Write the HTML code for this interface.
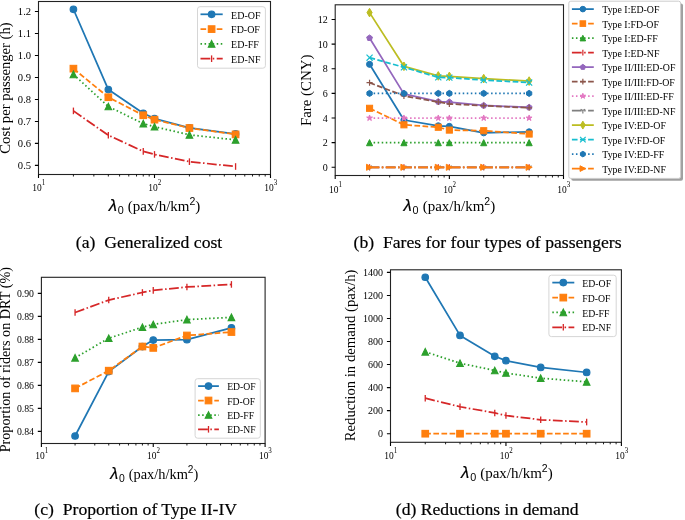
<!DOCTYPE html>
<html><head><meta charset="utf-8"><style>
html,body{margin:0;padding:0;background:#fff;width:685px;height:520px;overflow:hidden}
svg{display:block;will-change:transform}
.hv{stroke:#000;stroke-width:0.2px}
text{font-family:"Liberation Serif", serif;fill:#000}
</style></head><body>
<svg width="685" height="520" viewBox="0 0 685 520">
<rect width="685" height="520" fill="#fff"/>
<rect x="38.5" y="1.5" width="232" height="173" fill="none" stroke="#222" stroke-width="1.1"/>
<path d="M34.9,165.4H38.5M34.9,143.41H38.5M34.9,121.43H38.5M34.9,99.44H38.5M34.9,77.46H38.5M34.9,55.47H38.5M34.9,33.49H38.5M34.9,11.5H38.5M38.5,174.5V178.1M154.5,174.5V178.1M270.5,174.5V178.1" stroke="#000" stroke-width="1.1" fill="none"/>
<path d="M73.42,174.5V176.5M93.85,174.5V176.5M108.34,174.5V176.5M119.58,174.5V176.5M128.77,174.5V176.5M136.53,174.5V176.5M143.26,174.5V176.5M149.19,174.5V176.5M189.42,174.5V176.5M209.85,174.5V176.5M224.34,174.5V176.5M235.58,174.5V176.5M244.77,174.5V176.5M252.53,174.5V176.5M259.26,174.5V176.5M265.19,174.5V176.5" stroke="#000" stroke-width="0.88" fill="none"/>
<text transform="translate(31.1,169.32) scale(1.0,1)" text-anchor="end" font-size="10.6">0.5</text>
<text transform="translate(31.1,147.34) scale(1.0,1)" text-anchor="end" font-size="10.6">0.6</text>
<text transform="translate(31.1,125.35) scale(1.0,1)" text-anchor="end" font-size="10.6">0.7</text>
<text transform="translate(31.1,103.36) scale(1.0,1)" text-anchor="end" font-size="10.6">0.8</text>
<text transform="translate(31.1,81.38) scale(1.0,1)" text-anchor="end" font-size="10.6">0.9</text>
<text transform="translate(31.1,59.39) scale(1.0,1)" text-anchor="end" font-size="10.6">1.0</text>
<text transform="translate(31.1,37.41) scale(1.0,1)" text-anchor="end" font-size="10.6">1.1</text>
<text transform="translate(31.1,15.42) scale(1.0,1)" text-anchor="end" font-size="10.6">1.2</text>
<text transform="translate(38.8,191.1) scale(0.9,1)" text-anchor="middle" font-size="10.5">10<tspan font-size="7.77" dy="-6.3">1</tspan></text>
<text transform="translate(154.8,191.1) scale(0.9,1)" text-anchor="middle" font-size="10.5">10<tspan font-size="7.77" dy="-6.3">2</tspan></text>
<text transform="translate(270.8,191.1) scale(0.9,1)" text-anchor="middle" font-size="10.5">10<tspan font-size="7.77" dy="-6.3">3</tspan></text>
<polyline points="73.42,9.3 108.34,89.55 143.26,113.29 154.5,118.57 189.42,127.8 235.58,133.96" fill="none" stroke="#1f77b4" stroke-width="1.75" stroke-linecap="square" stroke-linejoin="round"/>
<circle cx="73.42" cy="9.3" r="3.3" fill="#1f77b4" stroke="#1f77b4" stroke-width="1.1"/>
<circle cx="108.34" cy="89.55" r="3.3" fill="#1f77b4" stroke="#1f77b4" stroke-width="1.1"/>
<circle cx="143.26" cy="113.29" r="3.3" fill="#1f77b4" stroke="#1f77b4" stroke-width="1.1"/>
<circle cx="154.5" cy="118.57" r="3.3" fill="#1f77b4" stroke="#1f77b4" stroke-width="1.1"/>
<circle cx="189.42" cy="127.8" r="3.3" fill="#1f77b4" stroke="#1f77b4" stroke-width="1.1"/>
<circle cx="235.58" cy="133.96" r="3.3" fill="#1f77b4" stroke="#1f77b4" stroke-width="1.1"/>
<polyline points="73.42,68.66 108.34,97.24 143.26,115.27 154.5,119.67 189.42,128.02 235.58,134.4" fill="none" stroke="#ff7f0e" stroke-width="1.75" stroke-dasharray="5.66,2.45" stroke-linecap="butt" stroke-linejoin="round"/>
<rect x="70.12" y="65.36" width="6.6" height="6.6" fill="#ff7f0e" stroke="#ff7f0e" stroke-width="1.1" stroke-linejoin="miter"/>
<rect x="105.04" y="93.94" width="6.6" height="6.6" fill="#ff7f0e" stroke="#ff7f0e" stroke-width="1.1" stroke-linejoin="miter"/>
<rect x="139.96" y="111.97" width="6.6" height="6.6" fill="#ff7f0e" stroke="#ff7f0e" stroke-width="1.1" stroke-linejoin="miter"/>
<rect x="151.2" y="116.37" width="6.6" height="6.6" fill="#ff7f0e" stroke="#ff7f0e" stroke-width="1.1" stroke-linejoin="miter"/>
<rect x="186.12" y="124.72" width="6.6" height="6.6" fill="#ff7f0e" stroke="#ff7f0e" stroke-width="1.1" stroke-linejoin="miter"/>
<rect x="232.28" y="131.1" width="6.6" height="6.6" fill="#ff7f0e" stroke="#ff7f0e" stroke-width="1.1" stroke-linejoin="miter"/>
<polyline points="73.42,74.38 108.34,106.48 143.26,123.63 154.5,126.71 189.42,134.84 235.58,139.9" fill="none" stroke="#2ca02c" stroke-width="1.75" stroke-dasharray="1.53,2.52" stroke-linecap="butt" stroke-linejoin="round"/>
<polygon points="73.42,71.08 70.12,77.68 76.72,77.68" fill="#2ca02c" stroke="#2ca02c" stroke-width="1.1" stroke-linejoin="miter"/>
<polygon points="108.34,103.18 105.04,109.78 111.64,109.78" fill="#2ca02c" stroke="#2ca02c" stroke-width="1.1" stroke-linejoin="miter"/>
<polygon points="143.26,120.33 139.96,126.93 146.56,126.93" fill="#2ca02c" stroke="#2ca02c" stroke-width="1.1" stroke-linejoin="miter"/>
<polygon points="154.5,123.41 151.2,130.01 157.8,130.01" fill="#2ca02c" stroke="#2ca02c" stroke-width="1.1" stroke-linejoin="miter"/>
<polygon points="189.42,131.54 186.12,138.14 192.72,138.14" fill="#2ca02c" stroke="#2ca02c" stroke-width="1.1" stroke-linejoin="miter"/>
<polygon points="235.58,136.6 232.28,143.2 238.88,143.2" fill="#2ca02c" stroke="#2ca02c" stroke-width="1.1" stroke-linejoin="miter"/>
<polyline points="73.42,110.88 108.34,135.28 143.26,151.33 154.5,154.41 189.42,161.66 235.58,166.5" fill="none" stroke="#d62728" stroke-width="1.75" stroke-dasharray="9.79,2.45,1.53,2.45" stroke-linecap="butt" stroke-linejoin="round"/>
<path d="M73.42,107.58L73.42,114.18" stroke="#d62728" stroke-width="1.32" fill="none" stroke-linecap="butt"/>
<path d="M108.34,131.98L108.34,138.58" stroke="#d62728" stroke-width="1.32" fill="none" stroke-linecap="butt"/>
<path d="M143.26,148.03L143.26,154.63" stroke="#d62728" stroke-width="1.32" fill="none" stroke-linecap="butt"/>
<path d="M154.5,151.11L154.5,157.71" stroke="#d62728" stroke-width="1.32" fill="none" stroke-linecap="butt"/>
<path d="M189.42,158.36L189.42,164.96" stroke="#d62728" stroke-width="1.32" fill="none" stroke-linecap="butt"/>
<path d="M235.58,163.2L235.58,169.8" stroke="#d62728" stroke-width="1.32" fill="none" stroke-linecap="butt"/>
<rect x="197.5" y="6.7" width="67.9" height="61.5" rx="2.5" fill="#fff" fill-opacity="0.8" stroke="#d6d6d6" stroke-width="1"/>
<path d="M200.5,14.3H222.7" stroke="#1f77b4" stroke-width="1.75" stroke-linecap="butt" fill="none"/>
<circle cx="211.6" cy="14.3" r="3.3" fill="#1f77b4" stroke="#1f77b4" stroke-width="1.1"/>
<text transform="translate(231.1,18.63) scale(0.97,1)" font-size="10.3">ED-OF</text>
<path d="M200.5,29.1H222.7" stroke="#ff7f0e" stroke-width="1.75" stroke-dasharray="5.66,2.45" stroke-linecap="butt" fill="none"/>
<rect x="208.3" y="25.8" width="6.6" height="6.6" fill="#ff7f0e" stroke="#ff7f0e" stroke-width="1.1" stroke-linejoin="miter"/>
<text transform="translate(231.1,33.43) scale(0.97,1)" font-size="10.3">FD-OF</text>
<path d="M200.5,43.9H222.7" stroke="#2ca02c" stroke-width="1.75" stroke-dasharray="1.53,2.52" stroke-linecap="butt" fill="none"/>
<polygon points="211.6,40.6 208.3,47.2 214.9,47.2" fill="#2ca02c" stroke="#2ca02c" stroke-width="1.1" stroke-linejoin="miter"/>
<text transform="translate(231.1,48.23) scale(0.97,1)" font-size="10.3">ED-FF</text>
<path d="M200.5,58.7H222.7" stroke="#d62728" stroke-width="1.75" stroke-dasharray="9.79,2.45,1.53,2.45" stroke-linecap="butt" fill="none"/>
<path d="M211.6,55.4L211.6,62" stroke="#d62728" stroke-width="1.32" fill="none" stroke-linecap="butt"/>
<text transform="translate(231.1,63.03) scale(0.97,1)" font-size="10.3">ED-NF</text>
<text x="154.5" y="210.6" text-anchor="middle" font-size="15"><tspan font-family='"Liberation Sans", sans-serif' font-style="italic" font-size="16.8" class="hv">λ</tspan><tspan font-family='"Liberation Sans", sans-serif' font-size="10.8" dx="0.8" dy="3">0</tspan><tspan dx="0.3" dy="-3"> (pax/h/km</tspan><tspan font-family='"Liberation Sans", sans-serif' font-size="10.5" dy="-6">2</tspan><tspan dy="6">)</tspan></text>
<text transform="translate(10.2,88) rotate(-90)" x="0" y="0" text-anchor="middle" font-size="14.65">Cost per passenger (h)</text>
<rect x="335.2" y="4.8" width="228.3" height="170.7" fill="none" stroke="#222" stroke-width="1.1"/>
<path d="M331.6,167.3H335.2M331.6,142.67H335.2M331.6,118.03H335.2M331.6,93.4H335.2M331.6,68.77H335.2M331.6,44.13H335.2M331.6,19.5H335.2M335.2,175.5V179.1M449.35,175.5V179.1M563.5,175.5V179.1" stroke="#000" stroke-width="1.1" fill="none"/>
<path d="M369.56,175.5V177.5M389.66,175.5V177.5M403.93,175.5V177.5M414.99,175.5V177.5M424.03,175.5V177.5M431.67,175.5V177.5M438.29,175.5V177.5M444.13,175.5V177.5M483.71,175.5V177.5M503.81,175.5V177.5M518.08,175.5V177.5M529.14,175.5V177.5M538.18,175.5V177.5M545.82,175.5V177.5M552.44,175.5V177.5M558.28,175.5V177.5" stroke="#000" stroke-width="0.88" fill="none"/>
<text transform="translate(327.8,171) scale(1.0,1)" text-anchor="end" font-size="10">0</text>
<text transform="translate(327.8,146.37) scale(1.0,1)" text-anchor="end" font-size="10">2</text>
<text transform="translate(327.8,121.73) scale(1.0,1)" text-anchor="end" font-size="10">4</text>
<text transform="translate(327.8,97.1) scale(1.0,1)" text-anchor="end" font-size="10">6</text>
<text transform="translate(327.8,72.47) scale(1.0,1)" text-anchor="end" font-size="10">8</text>
<text transform="translate(327.8,47.83) scale(1.0,1)" text-anchor="end" font-size="10">10</text>
<text transform="translate(327.8,23.2) scale(1.0,1)" text-anchor="end" font-size="10">12</text>
<text transform="translate(335.5,192.8) scale(0.9,1)" text-anchor="middle" font-size="10.5">10<tspan font-size="7.77" dy="-6.3">1</tspan></text>
<text transform="translate(449.65,192.8) scale(0.9,1)" text-anchor="middle" font-size="10.5">10<tspan font-size="7.77" dy="-6.3">2</tspan></text>
<text transform="translate(563.8,192.8) scale(0.9,1)" text-anchor="middle" font-size="10.5">10<tspan font-size="7.77" dy="-6.3">3</tspan></text>
<polyline points="369.56,64.33 403.93,120 438.29,125.79 449.35,126.41 483.71,132.81 529.14,131.83" fill="none" stroke="#1f77b4" stroke-width="1.75" stroke-linecap="square" stroke-linejoin="round"/>
<circle cx="369.56" cy="64.33" r="3.05" fill="#1f77b4" stroke="#1f77b4" stroke-width="1"/>
<circle cx="403.93" cy="120" r="3.05" fill="#1f77b4" stroke="#1f77b4" stroke-width="1"/>
<circle cx="438.29" cy="125.79" r="3.05" fill="#1f77b4" stroke="#1f77b4" stroke-width="1"/>
<circle cx="449.35" cy="126.41" r="3.05" fill="#1f77b4" stroke="#1f77b4" stroke-width="1"/>
<circle cx="483.71" cy="132.81" r="3.05" fill="#1f77b4" stroke="#1f77b4" stroke-width="1"/>
<circle cx="529.14" cy="131.83" r="3.05" fill="#1f77b4" stroke="#1f77b4" stroke-width="1"/>
<polyline points="369.56,108.3 403.93,124.81 438.29,127.27 449.35,130.1 483.71,130.72 529.14,134.05" fill="none" stroke="#ff7f0e" stroke-width="1.75" stroke-dasharray="5.66,2.45" stroke-linecap="butt" stroke-linejoin="round"/>
<rect x="366.51" y="105.25" width="6.1" height="6.1" fill="#ff7f0e" stroke="#ff7f0e" stroke-width="1" stroke-linejoin="miter"/>
<rect x="400.88" y="121.76" width="6.1" height="6.1" fill="#ff7f0e" stroke="#ff7f0e" stroke-width="1" stroke-linejoin="miter"/>
<rect x="435.24" y="124.22" width="6.1" height="6.1" fill="#ff7f0e" stroke="#ff7f0e" stroke-width="1" stroke-linejoin="miter"/>
<rect x="446.3" y="127.05" width="6.1" height="6.1" fill="#ff7f0e" stroke="#ff7f0e" stroke-width="1" stroke-linejoin="miter"/>
<rect x="480.66" y="127.67" width="6.1" height="6.1" fill="#ff7f0e" stroke="#ff7f0e" stroke-width="1" stroke-linejoin="miter"/>
<rect x="526.09" y="131" width="6.1" height="6.1" fill="#ff7f0e" stroke="#ff7f0e" stroke-width="1" stroke-linejoin="miter"/>
<polyline points="369.56,142.67 403.93,142.67 438.29,142.67 449.35,142.67 483.71,142.67 529.14,142.67" fill="none" stroke="#2ca02c" stroke-width="1.75" stroke-dasharray="1.53,2.52" stroke-linecap="butt" stroke-linejoin="round"/>
<polygon points="369.56,139.62 366.51,145.72 372.61,145.72" fill="#2ca02c" stroke="#2ca02c" stroke-width="1" stroke-linejoin="miter"/>
<polygon points="403.93,139.62 400.88,145.72 406.98,145.72" fill="#2ca02c" stroke="#2ca02c" stroke-width="1" stroke-linejoin="miter"/>
<polygon points="438.29,139.62 435.24,145.72 441.34,145.72" fill="#2ca02c" stroke="#2ca02c" stroke-width="1" stroke-linejoin="miter"/>
<polygon points="449.35,139.62 446.3,145.72 452.4,145.72" fill="#2ca02c" stroke="#2ca02c" stroke-width="1" stroke-linejoin="miter"/>
<polygon points="483.71,139.62 480.66,145.72 486.76,145.72" fill="#2ca02c" stroke="#2ca02c" stroke-width="1" stroke-linejoin="miter"/>
<polygon points="529.14,139.62 526.09,145.72 532.19,145.72" fill="#2ca02c" stroke="#2ca02c" stroke-width="1" stroke-linejoin="miter"/>
<polyline points="369.56,167.3 403.93,167.3 438.29,167.3 449.35,167.3 483.71,167.3 529.14,167.3" fill="none" stroke="#d62728" stroke-width="1.75" stroke-dasharray="9.79,2.45,1.53,2.45" stroke-linecap="butt" stroke-linejoin="round"/>
<path d="M369.56,164.25L369.56,170.35" stroke="#d62728" stroke-width="1.2" fill="none" stroke-linecap="butt"/>
<path d="M403.93,164.25L403.93,170.35" stroke="#d62728" stroke-width="1.2" fill="none" stroke-linecap="butt"/>
<path d="M438.29,164.25L438.29,170.35" stroke="#d62728" stroke-width="1.2" fill="none" stroke-linecap="butt"/>
<path d="M449.35,164.25L449.35,170.35" stroke="#d62728" stroke-width="1.2" fill="none" stroke-linecap="butt"/>
<path d="M483.71,164.25L483.71,170.35" stroke="#d62728" stroke-width="1.2" fill="none" stroke-linecap="butt"/>
<path d="M529.14,164.25L529.14,170.35" stroke="#d62728" stroke-width="1.2" fill="none" stroke-linecap="butt"/>
<polyline points="369.56,37.98 403.93,93.89 438.29,101.65 449.35,102.02 483.71,105.47 529.14,107.32" fill="none" stroke="#9467bd" stroke-width="1.75" stroke-linecap="square" stroke-linejoin="round"/>
<polygon points="369.56,34.93 372.46,37.03 371.36,40.44 367.77,40.44 366.66,37.03" fill="#9467bd" stroke="#9467bd" stroke-width="1" stroke-linejoin="miter"/>
<polygon points="403.93,90.84 406.83,92.95 405.72,96.36 402.13,96.36 401.02,92.95" fill="#9467bd" stroke="#9467bd" stroke-width="1" stroke-linejoin="miter"/>
<polygon points="438.29,98.6 441.19,100.71 440.08,104.12 436.49,104.12 435.39,100.71" fill="#9467bd" stroke="#9467bd" stroke-width="1" stroke-linejoin="miter"/>
<polygon points="449.35,98.97 452.25,101.08 451.14,104.49 447.56,104.49 446.45,101.08" fill="#9467bd" stroke="#9467bd" stroke-width="1" stroke-linejoin="miter"/>
<polygon points="483.71,102.42 486.61,104.53 485.51,107.94 481.92,107.94 480.81,104.53" fill="#9467bd" stroke="#9467bd" stroke-width="1" stroke-linejoin="miter"/>
<polygon points="529.14,104.27 532.04,106.38 530.93,109.79 527.34,109.79 526.24,106.38" fill="#9467bd" stroke="#9467bd" stroke-width="1" stroke-linejoin="miter"/>
<polyline points="369.56,82.68 403.93,95.86 438.29,102.02 449.35,103.87 483.71,105.72 529.14,107.81" fill="none" stroke="#8c564b" stroke-width="1.75" stroke-dasharray="5.66,2.45" stroke-linecap="butt" stroke-linejoin="round"/>
<path d="M369.56,79.63L369.56,85.73M366.51,82.68L372.61,82.68" stroke="#8c564b" stroke-width="1.2" fill="none" stroke-linecap="butt"/>
<path d="M403.93,92.81L403.93,98.91M400.88,95.86L406.98,95.86" stroke="#8c564b" stroke-width="1.2" fill="none" stroke-linecap="butt"/>
<path d="M438.29,98.97L438.29,105.07M435.24,102.02L441.34,102.02" stroke="#8c564b" stroke-width="1.2" fill="none" stroke-linecap="butt"/>
<path d="M449.35,100.82L449.35,106.92M446.3,103.87L452.4,103.87" stroke="#8c564b" stroke-width="1.2" fill="none" stroke-linecap="butt"/>
<path d="M483.71,102.67L483.71,108.77M480.66,105.72L486.76,105.72" stroke="#8c564b" stroke-width="1.2" fill="none" stroke-linecap="butt"/>
<path d="M529.14,104.76L529.14,110.86M526.09,107.81L532.19,107.81" stroke="#8c564b" stroke-width="1.2" fill="none" stroke-linecap="butt"/>
<polyline points="369.56,118.03 403.93,118.03 438.29,118.03 449.35,118.03 483.71,118.03 529.14,118.03" fill="none" stroke="#e377c2" stroke-width="1.75" stroke-dasharray="1.53,2.52" stroke-linecap="butt" stroke-linejoin="round"/>
<polygon points="369.56,114.98 370.25,117.09 372.46,117.09 370.67,118.39 371.36,120.5 369.56,119.2 367.77,120.5 368.45,118.39 366.66,117.09 368.88,117.09" fill="#e377c2" stroke="#e377c2" stroke-width="1" stroke-linejoin="miter"/>
<polygon points="403.93,114.98 404.61,117.09 406.83,117.09 405.03,118.39 405.72,120.5 403.93,119.2 402.13,120.5 402.82,118.39 401.02,117.09 403.24,117.09" fill="#e377c2" stroke="#e377c2" stroke-width="1" stroke-linejoin="miter"/>
<polygon points="438.29,114.98 438.97,117.09 441.19,117.09 439.4,118.39 440.08,120.5 438.29,119.2 436.49,120.5 437.18,118.39 435.39,117.09 437.6,117.09" fill="#e377c2" stroke="#e377c2" stroke-width="1" stroke-linejoin="miter"/>
<polygon points="449.35,114.98 450.03,117.09 452.25,117.09 450.46,118.39 451.14,120.5 449.35,119.2 447.56,120.5 448.24,118.39 446.45,117.09 448.67,117.09" fill="#e377c2" stroke="#e377c2" stroke-width="1" stroke-linejoin="miter"/>
<polygon points="483.71,114.98 484.4,117.09 486.61,117.09 484.82,118.39 485.51,120.5 483.71,119.2 481.92,120.5 482.6,118.39 480.81,117.09 483.03,117.09" fill="#e377c2" stroke="#e377c2" stroke-width="1" stroke-linejoin="miter"/>
<polygon points="529.14,114.98 529.82,117.09 532.04,117.09 530.25,118.39 530.93,120.5 529.14,119.2 527.34,120.5 528.03,118.39 526.24,117.09 528.45,117.09" fill="#e377c2" stroke="#e377c2" stroke-width="1" stroke-linejoin="miter"/>
<polyline points="369.56,167.3 403.93,167.3 438.29,167.3 449.35,167.3 483.71,167.3 529.14,167.3" fill="none" stroke="#7f7f7f" stroke-width="1.75" stroke-dasharray="9.79,2.45,1.53,2.45" stroke-linecap="butt" stroke-linejoin="round"/>
<path d="M369.56,167.3L369.56,170.35M369.56,167.3L372,165.78M369.56,167.3L367.12,165.78" stroke="#7f7f7f" stroke-width="1.2" fill="none" stroke-linecap="butt"/>
<path d="M403.93,167.3L403.93,170.35M403.93,167.3L406.37,165.78M403.93,167.3L401.49,165.78" stroke="#7f7f7f" stroke-width="1.2" fill="none" stroke-linecap="butt"/>
<path d="M438.29,167.3L438.29,170.35M438.29,167.3L440.73,165.78M438.29,167.3L435.85,165.78" stroke="#7f7f7f" stroke-width="1.2" fill="none" stroke-linecap="butt"/>
<path d="M449.35,167.3L449.35,170.35M449.35,167.3L451.79,165.78M449.35,167.3L446.91,165.78" stroke="#7f7f7f" stroke-width="1.2" fill="none" stroke-linecap="butt"/>
<path d="M483.71,167.3L483.71,170.35M483.71,167.3L486.15,165.78M483.71,167.3L481.27,165.78" stroke="#7f7f7f" stroke-width="1.2" fill="none" stroke-linecap="butt"/>
<path d="M529.14,167.3L529.14,170.35M529.14,167.3L531.58,165.78M529.14,167.3L526.7,165.78" stroke="#7f7f7f" stroke-width="1.2" fill="none" stroke-linecap="butt"/>
<polyline points="369.56,12.6 403.93,66.3 438.29,75.91 449.35,76.4 483.71,78.62 529.14,81.08" fill="none" stroke="#bcbd22" stroke-width="1.75" stroke-linecap="square" stroke-linejoin="round"/>
<polygon points="369.56,8.29 372.15,12.6 369.56,16.92 366.97,12.6" fill="#bcbd22" stroke="#bcbd22" stroke-width="1" stroke-linejoin="miter"/>
<polygon points="403.93,61.99 406.51,66.3 403.93,70.62 401.34,66.3" fill="#bcbd22" stroke="#bcbd22" stroke-width="1" stroke-linejoin="miter"/>
<polygon points="438.29,71.6 440.88,75.91 438.29,80.22 435.7,75.91" fill="#bcbd22" stroke="#bcbd22" stroke-width="1" stroke-linejoin="miter"/>
<polygon points="449.35,72.09 451.94,76.4 449.35,80.72 446.76,76.4" fill="#bcbd22" stroke="#bcbd22" stroke-width="1" stroke-linejoin="miter"/>
<polygon points="483.71,74.31 486.3,78.62 483.71,82.93 481.12,78.62" fill="#bcbd22" stroke="#bcbd22" stroke-width="1" stroke-linejoin="miter"/>
<polygon points="529.14,76.77 531.73,81.08 529.14,85.4 526.55,81.08" fill="#bcbd22" stroke="#bcbd22" stroke-width="1" stroke-linejoin="miter"/>
<polyline points="369.56,57.68 403.93,67.29 438.29,77.39 449.35,77.63 483.71,80.1 529.14,82.56" fill="none" stroke="#17becf" stroke-width="1.75" stroke-dasharray="5.66,2.45" stroke-linecap="butt" stroke-linejoin="round"/>
<path d="M366.51,54.63L372.61,60.73M366.51,60.73L372.61,54.63" stroke="#17becf" stroke-width="1.2" fill="none" stroke-linecap="butt"/>
<path d="M400.88,64.24L406.98,70.34M400.88,70.34L406.98,64.24" stroke="#17becf" stroke-width="1.2" fill="none" stroke-linecap="butt"/>
<path d="M435.24,74.34L441.34,80.44M435.24,80.44L441.34,74.34" stroke="#17becf" stroke-width="1.2" fill="none" stroke-linecap="butt"/>
<path d="M446.3,74.58L452.4,80.68M446.3,80.68L452.4,74.58" stroke="#17becf" stroke-width="1.2" fill="none" stroke-linecap="butt"/>
<path d="M480.66,77.05L486.76,83.15M480.66,83.15L486.76,77.05" stroke="#17becf" stroke-width="1.2" fill="none" stroke-linecap="butt"/>
<path d="M526.09,79.51L532.19,85.61M526.09,85.61L532.19,79.51" stroke="#17becf" stroke-width="1.2" fill="none" stroke-linecap="butt"/>
<polyline points="369.56,93.4 403.93,93.4 438.29,93.4 449.35,93.4 483.71,93.4 529.14,93.4" fill="none" stroke="#1f77b4" stroke-width="1.75" stroke-dasharray="1.53,2.52" stroke-linecap="butt" stroke-linejoin="round"/>
<polygon points="369.56,90.35 372.2,91.88 372.2,94.93 369.56,96.45 366.92,94.93 366.92,91.88" fill="#1f77b4" stroke="#1f77b4" stroke-width="1" stroke-linejoin="miter"/>
<polygon points="403.93,90.35 406.57,91.88 406.57,94.93 403.93,96.45 401.28,94.93 401.28,91.88" fill="#1f77b4" stroke="#1f77b4" stroke-width="1" stroke-linejoin="miter"/>
<polygon points="438.29,90.35 440.93,91.88 440.93,94.93 438.29,96.45 435.65,94.93 435.65,91.88" fill="#1f77b4" stroke="#1f77b4" stroke-width="1" stroke-linejoin="miter"/>
<polygon points="449.35,90.35 451.99,91.88 451.99,94.93 449.35,96.45 446.71,94.93 446.71,91.88" fill="#1f77b4" stroke="#1f77b4" stroke-width="1" stroke-linejoin="miter"/>
<polygon points="483.71,90.35 486.35,91.88 486.35,94.93 483.71,96.45 481.07,94.93 481.07,91.88" fill="#1f77b4" stroke="#1f77b4" stroke-width="1" stroke-linejoin="miter"/>
<polygon points="529.14,90.35 531.78,91.88 531.78,94.93 529.14,96.45 526.5,94.93 526.5,91.88" fill="#1f77b4" stroke="#1f77b4" stroke-width="1" stroke-linejoin="miter"/>
<polyline points="369.56,167.3 403.93,167.3 438.29,167.3 449.35,167.3 483.71,167.3 529.14,167.3" fill="none" stroke="#ff7f0e" stroke-width="1.75" stroke-dasharray="9.79,2.45,1.53,2.45" stroke-linecap="butt" stroke-linejoin="round"/>
<polygon points="372.61,167.3 366.51,164.25 366.51,170.35" fill="#ff7f0e" stroke="#ff7f0e" stroke-width="1" stroke-linejoin="miter"/>
<polygon points="406.98,167.3 400.88,164.25 400.88,170.35" fill="#ff7f0e" stroke="#ff7f0e" stroke-width="1" stroke-linejoin="miter"/>
<polygon points="441.34,167.3 435.24,164.25 435.24,170.35" fill="#ff7f0e" stroke="#ff7f0e" stroke-width="1" stroke-linejoin="miter"/>
<polygon points="452.4,167.3 446.3,164.25 446.3,170.35" fill="#ff7f0e" stroke="#ff7f0e" stroke-width="1" stroke-linejoin="miter"/>
<polygon points="486.76,167.3 480.66,164.25 480.66,170.35" fill="#ff7f0e" stroke="#ff7f0e" stroke-width="1" stroke-linejoin="miter"/>
<polygon points="532.19,167.3 526.09,164.25 526.09,170.35" fill="#ff7f0e" stroke="#ff7f0e" stroke-width="1" stroke-linejoin="miter"/>
<rect x="571.2" y="3.6" width="111.8" height="177.2" rx="2" fill="#7f7f7f" fill-opacity="0.75"/>
<rect x="568.8" y="1.2" width="111.8" height="177.2" rx="2" fill="#fff" stroke="#cccccc" stroke-width="1"/>
<path d="M571.9,9.1H593.8" stroke="#1f77b4" stroke-width="1.75" stroke-linecap="butt" fill="none"/>
<circle cx="582.85" cy="9.1" r="2.8" fill="#1f77b4" stroke="#1f77b4" stroke-width="1"/>
<text transform="translate(602.3,13.18) scale(0.97,1)" font-size="10.2">Type I:ED-OF</text>
<path d="M571.9,23.6H593.8" stroke="#ff7f0e" stroke-width="1.75" stroke-dasharray="5.66,2.45" stroke-linecap="butt" fill="none"/>
<rect x="580.05" y="20.8" width="5.6" height="5.6" fill="#ff7f0e" stroke="#ff7f0e" stroke-width="1" stroke-linejoin="miter"/>
<text transform="translate(602.3,27.68) scale(0.97,1)" font-size="10.2">Type I:FD-OF</text>
<path d="M571.9,38.1H593.8" stroke="#2ca02c" stroke-width="1.75" stroke-dasharray="1.53,2.52" stroke-linecap="butt" fill="none"/>
<polygon points="582.85,35.3 580.05,40.9 585.65,40.9" fill="#2ca02c" stroke="#2ca02c" stroke-width="1" stroke-linejoin="miter"/>
<text transform="translate(602.3,42.18) scale(0.97,1)" font-size="10.2">Type I:ED-FF</text>
<path d="M571.9,52.6H593.8" stroke="#d62728" stroke-width="1.75" stroke-dasharray="9.79,2.45,1.53,2.45" stroke-linecap="butt" fill="none"/>
<path d="M582.85,49.8L582.85,55.4" stroke="#d62728" stroke-width="1.2" fill="none" stroke-linecap="butt"/>
<text transform="translate(602.3,56.68) scale(0.97,1)" font-size="10.2">Type I:ED-NF</text>
<path d="M571.9,67.1H593.8" stroke="#9467bd" stroke-width="1.75" stroke-linecap="butt" fill="none"/>
<polygon points="582.85,64.3 585.51,66.23 584.5,69.37 581.2,69.37 580.19,66.23" fill="#9467bd" stroke="#9467bd" stroke-width="1" stroke-linejoin="miter"/>
<text transform="translate(602.3,71.18) scale(0.97,1)" font-size="10.2">Type II/III:ED-OF</text>
<path d="M571.9,81.6H593.8" stroke="#8c564b" stroke-width="1.75" stroke-dasharray="5.66,2.45" stroke-linecap="butt" fill="none"/>
<path d="M582.85,78.8L582.85,84.4M580.05,81.6L585.65,81.6" stroke="#8c564b" stroke-width="1.2" fill="none" stroke-linecap="butt"/>
<text transform="translate(602.3,85.68) scale(0.97,1)" font-size="10.2">Type II/III:FD-OF</text>
<path d="M571.9,96.1H593.8" stroke="#e377c2" stroke-width="1.75" stroke-dasharray="1.53,2.52" stroke-linecap="butt" fill="none"/>
<polygon points="582.85,93.3 583.48,95.23 585.51,95.23 583.87,96.43 584.5,98.37 582.85,97.17 581.2,98.37 581.83,96.43 580.19,95.23 582.22,95.23" fill="#e377c2" stroke="#e377c2" stroke-width="1" stroke-linejoin="miter"/>
<text transform="translate(602.3,100.18) scale(0.97,1)" font-size="10.2">Type II/III:ED-FF</text>
<path d="M571.9,110.6H593.8" stroke="#7f7f7f" stroke-width="1.75" stroke-dasharray="9.79,2.45,1.53,2.45" stroke-linecap="butt" fill="none"/>
<path d="M582.85,110.6L582.85,113.4M582.85,110.6L585.09,109.2M582.85,110.6L580.61,109.2" stroke="#7f7f7f" stroke-width="1.2" fill="none" stroke-linecap="butt"/>
<text transform="translate(602.3,114.68) scale(0.97,1)" font-size="10.2">Type II/III:ED-NF</text>
<path d="M571.9,125.1H593.8" stroke="#bcbd22" stroke-width="1.75" stroke-linecap="butt" fill="none"/>
<polygon points="582.85,121.14 585.23,125.1 582.85,129.06 580.47,125.1" fill="#bcbd22" stroke="#bcbd22" stroke-width="1" stroke-linejoin="miter"/>
<text transform="translate(602.3,129.18) scale(0.97,1)" font-size="10.2">Type IV:ED-OF</text>
<path d="M571.9,139.6H593.8" stroke="#17becf" stroke-width="1.75" stroke-dasharray="5.66,2.45" stroke-linecap="butt" fill="none"/>
<path d="M580.05,136.8L585.65,142.4M580.05,142.4L585.65,136.8" stroke="#17becf" stroke-width="1.2" fill="none" stroke-linecap="butt"/>
<text transform="translate(602.3,143.68) scale(0.97,1)" font-size="10.2">Type IV:FD-OF</text>
<path d="M571.9,154.1H593.8" stroke="#1f77b4" stroke-width="1.75" stroke-dasharray="1.53,2.52" stroke-linecap="butt" fill="none"/>
<polygon points="582.85,151.3 585.27,152.7 585.27,155.5 582.85,156.9 580.43,155.5 580.43,152.7" fill="#1f77b4" stroke="#1f77b4" stroke-width="1" stroke-linejoin="miter"/>
<text transform="translate(602.3,158.18) scale(0.97,1)" font-size="10.2">Type IV:ED-FF</text>
<path d="M571.9,168.6H593.8" stroke="#ff7f0e" stroke-width="1.75" stroke-dasharray="9.79,2.45,1.53,2.45" stroke-linecap="butt" fill="none"/>
<polygon points="585.65,168.6 580.05,165.8 580.05,171.4" fill="#ff7f0e" stroke="#ff7f0e" stroke-width="1" stroke-linejoin="miter"/>
<text transform="translate(602.3,172.68) scale(0.97,1)" font-size="10.2">Type IV:ED-NF</text>
<text x="449.35" y="210.9" text-anchor="middle" font-size="15"><tspan font-family='"Liberation Sans", sans-serif' font-style="italic" font-size="16.8" class="hv">λ</tspan><tspan font-family='"Liberation Sans", sans-serif' font-size="10.8" dx="0.8" dy="3">0</tspan><tspan dx="0.3" dy="-3"> (pax/h/km</tspan><tspan font-family='"Liberation Sans", sans-serif' font-size="10.5" dy="-6">2</tspan><tspan dy="6">)</tspan></text>
<text transform="translate(311.4,90.3) rotate(-90)" x="0" y="0" text-anchor="middle" font-size="14.9">Fare (CNY)</text>
<rect x="41.4" y="277.3" width="223.7" height="166.2" fill="none" stroke="#222" stroke-width="1.1"/>
<path d="M37.8,431.4H41.4M37.8,408.4H41.4M37.8,385.4H41.4M37.8,362.4H41.4M37.8,339.4H41.4M37.8,316.4H41.4M37.8,293.4H41.4M41.4,443.5V447.1M153.25,443.5V447.1M265.1,443.5V447.1" stroke="#000" stroke-width="1.1" fill="none"/>
<path d="M75.07,443.5V445.5M94.77,443.5V445.5M108.74,443.5V445.5M119.58,443.5V445.5M128.44,443.5V445.5M135.92,443.5V445.5M142.41,443.5V445.5M148.13,443.5V445.5M186.92,443.5V445.5M206.62,443.5V445.5M220.59,443.5V445.5M231.43,443.5V445.5M240.29,443.5V445.5M247.77,443.5V445.5M254.26,443.5V445.5M259.98,443.5V445.5" stroke="#000" stroke-width="0.88" fill="none"/>
<text transform="translate(34,434.83) scale(0.94,1)" text-anchor="end" font-size="10.4">0.84</text>
<text transform="translate(34,411.83) scale(0.94,1)" text-anchor="end" font-size="10.4">0.85</text>
<text transform="translate(34,388.83) scale(0.94,1)" text-anchor="end" font-size="10.4">0.86</text>
<text transform="translate(34,365.83) scale(0.94,1)" text-anchor="end" font-size="10.4">0.87</text>
<text transform="translate(34,342.83) scale(0.94,1)" text-anchor="end" font-size="10.4">0.88</text>
<text transform="translate(34,319.83) scale(0.94,1)" text-anchor="end" font-size="10.4">0.89</text>
<text transform="translate(34,296.83) scale(0.94,1)" text-anchor="end" font-size="10.4">0.90</text>
<text transform="translate(41.7,459.3) scale(0.9,1)" text-anchor="middle" font-size="10.5">10<tspan font-size="7.77" dy="-6.3">1</tspan></text>
<text transform="translate(153.55,459.3) scale(0.9,1)" text-anchor="middle" font-size="10.5">10<tspan font-size="7.77" dy="-6.3">2</tspan></text>
<text transform="translate(265.4,459.3) scale(0.9,1)" text-anchor="middle" font-size="10.5">10<tspan font-size="7.77" dy="-6.3">3</tspan></text>
<polyline points="75.07,436 108.74,371.6 142.41,346.53 153.25,340.09 186.92,339.63 231.43,327.9" fill="none" stroke="#1f77b4" stroke-width="1.75" stroke-linecap="square" stroke-linejoin="round"/>
<circle cx="75.07" cy="436" r="3.3" fill="#1f77b4" stroke="#1f77b4" stroke-width="1.1"/>
<circle cx="108.74" cy="371.6" r="3.3" fill="#1f77b4" stroke="#1f77b4" stroke-width="1.1"/>
<circle cx="142.41" cy="346.53" r="3.3" fill="#1f77b4" stroke="#1f77b4" stroke-width="1.1"/>
<circle cx="153.25" cy="340.09" r="3.3" fill="#1f77b4" stroke="#1f77b4" stroke-width="1.1"/>
<circle cx="186.92" cy="339.63" r="3.3" fill="#1f77b4" stroke="#1f77b4" stroke-width="1.1"/>
<circle cx="231.43" cy="327.9" r="3.3" fill="#1f77b4" stroke="#1f77b4" stroke-width="1.1"/>
<polyline points="75.07,388.39 108.74,370.68 142.41,346.53 153.25,347.91 186.92,335.49 231.43,332.04" fill="none" stroke="#ff7f0e" stroke-width="1.75" stroke-dasharray="5.66,2.45" stroke-linecap="butt" stroke-linejoin="round"/>
<rect x="71.77" y="385.09" width="6.6" height="6.6" fill="#ff7f0e" stroke="#ff7f0e" stroke-width="1.1" stroke-linejoin="miter"/>
<rect x="105.44" y="367.38" width="6.6" height="6.6" fill="#ff7f0e" stroke="#ff7f0e" stroke-width="1.1" stroke-linejoin="miter"/>
<rect x="139.11" y="343.23" width="6.6" height="6.6" fill="#ff7f0e" stroke="#ff7f0e" stroke-width="1.1" stroke-linejoin="miter"/>
<rect x="149.95" y="344.61" width="6.6" height="6.6" fill="#ff7f0e" stroke="#ff7f0e" stroke-width="1.1" stroke-linejoin="miter"/>
<rect x="183.62" y="332.19" width="6.6" height="6.6" fill="#ff7f0e" stroke="#ff7f0e" stroke-width="1.1" stroke-linejoin="miter"/>
<rect x="228.13" y="328.74" width="6.6" height="6.6" fill="#ff7f0e" stroke="#ff7f0e" stroke-width="1.1" stroke-linejoin="miter"/>
<polyline points="75.07,357.8 108.74,338.25 142.41,327.21 153.25,324.45 186.92,319.62 231.43,317.32" fill="none" stroke="#2ca02c" stroke-width="1.75" stroke-dasharray="1.53,2.52" stroke-linecap="butt" stroke-linejoin="round"/>
<polygon points="75.07,354.5 71.77,361.1 78.37,361.1" fill="#2ca02c" stroke="#2ca02c" stroke-width="1.1" stroke-linejoin="miter"/>
<polygon points="108.74,334.95 105.44,341.55 112.04,341.55" fill="#2ca02c" stroke="#2ca02c" stroke-width="1.1" stroke-linejoin="miter"/>
<polygon points="142.41,323.91 139.11,330.51 145.71,330.51" fill="#2ca02c" stroke="#2ca02c" stroke-width="1.1" stroke-linejoin="miter"/>
<polygon points="153.25,321.15 149.95,327.75 156.55,327.75" fill="#2ca02c" stroke="#2ca02c" stroke-width="1.1" stroke-linejoin="miter"/>
<polygon points="186.92,316.32 183.62,322.92 190.22,322.92" fill="#2ca02c" stroke="#2ca02c" stroke-width="1.1" stroke-linejoin="miter"/>
<polygon points="231.43,314.02 228.13,320.62 234.73,320.62" fill="#2ca02c" stroke="#2ca02c" stroke-width="1.1" stroke-linejoin="miter"/>
<polyline points="75.07,312.49 108.74,300.07 142.41,292.48 153.25,290.41 186.92,286.96 231.43,284.43" fill="none" stroke="#d62728" stroke-width="1.75" stroke-dasharray="9.79,2.45,1.53,2.45" stroke-linecap="butt" stroke-linejoin="round"/>
<path d="M75.07,309.19L75.07,315.79" stroke="#d62728" stroke-width="1.32" fill="none" stroke-linecap="butt"/>
<path d="M108.74,296.77L108.74,303.37" stroke="#d62728" stroke-width="1.32" fill="none" stroke-linecap="butt"/>
<path d="M142.41,289.18L142.41,295.78" stroke="#d62728" stroke-width="1.32" fill="none" stroke-linecap="butt"/>
<path d="M153.25,287.11L153.25,293.71" stroke="#d62728" stroke-width="1.32" fill="none" stroke-linecap="butt"/>
<path d="M186.92,283.66L186.92,290.26" stroke="#d62728" stroke-width="1.32" fill="none" stroke-linecap="butt"/>
<path d="M231.43,281.13L231.43,287.73" stroke="#d62728" stroke-width="1.32" fill="none" stroke-linecap="butt"/>
<rect x="195.1" y="378.7" width="65.2" height="59.5" rx="2.5" fill="#fff" fill-opacity="0.8" stroke="#d6d6d6" stroke-width="1"/>
<path d="M198.1,386.1H218.9" stroke="#1f77b4" stroke-width="1.75" stroke-linecap="butt" fill="none"/>
<circle cx="208.5" cy="386.1" r="3.3" fill="#1f77b4" stroke="#1f77b4" stroke-width="1.1"/>
<text transform="translate(227.2,390.18) scale(0.95,1)" font-size="10.2">ED-OF</text>
<path d="M198.1,400.5H218.9" stroke="#ff7f0e" stroke-width="1.75" stroke-dasharray="5.66,2.45" stroke-linecap="butt" fill="none"/>
<rect x="205.2" y="397.2" width="6.6" height="6.6" fill="#ff7f0e" stroke="#ff7f0e" stroke-width="1.1" stroke-linejoin="miter"/>
<text transform="translate(227.2,404.58) scale(0.95,1)" font-size="10.2">FD-OF</text>
<path d="M198.1,415H218.9" stroke="#2ca02c" stroke-width="1.75" stroke-dasharray="1.53,2.52" stroke-linecap="butt" fill="none"/>
<polygon points="208.5,411.7 205.2,418.3 211.8,418.3" fill="#2ca02c" stroke="#2ca02c" stroke-width="1.1" stroke-linejoin="miter"/>
<text transform="translate(227.2,419.08) scale(0.95,1)" font-size="10.2">ED-FF</text>
<path d="M198.1,429.3H218.9" stroke="#d62728" stroke-width="1.75" stroke-dasharray="9.79,2.45,1.53,2.45" stroke-linecap="butt" fill="none"/>
<path d="M208.5,426L208.5,432.6" stroke="#d62728" stroke-width="1.32" fill="none" stroke-linecap="butt"/>
<text transform="translate(227.2,433.38) scale(0.95,1)" font-size="10.2">ED-NF</text>
<text x="154.3" y="479" text-anchor="middle" font-size="14.4"><tspan font-family='"Liberation Sans", sans-serif' font-style="italic" font-size="16.13" class="hv">λ</tspan><tspan font-family='"Liberation Sans", sans-serif' font-size="10.37" dx="0.8" dy="2.88">0</tspan><tspan dx="0.3" dy="-2.88"> (pax/h/km</tspan><tspan font-family='"Liberation Sans", sans-serif' font-size="10.08" dy="-5.76">2</tspan><tspan dy="5.76">)</tspan></text>
<text transform="translate(10,359.7) rotate(-90)" x="0" y="0" text-anchor="middle" font-size="14.2">Proportion of riders on DRT (%)</text>
<rect x="390.5" y="269.8" width="230.9" height="172.5" fill="none" stroke="#222" stroke-width="1.1"/>
<path d="M386.9,433.7H390.5M386.9,410.66H390.5M386.9,387.61H390.5M386.9,364.57H390.5M386.9,341.53H390.5M386.9,318.49H390.5M386.9,295.44H390.5M386.9,272.4H390.5M390.5,442.3V445.9M505.95,442.3V445.9M621.4,442.3V445.9" stroke="#000" stroke-width="1.1" fill="none"/>
<path d="M425.25,442.3V444.3M445.58,442.3V444.3M460.01,442.3V444.3M471.2,442.3V444.3M480.34,442.3V444.3M488.07,442.3V444.3M494.76,442.3V444.3M500.67,442.3V444.3M540.7,442.3V444.3M561.03,442.3V444.3M575.46,442.3V444.3M586.65,442.3V444.3M595.79,442.3V444.3M603.52,442.3V444.3M610.21,442.3V444.3M616.12,442.3V444.3" stroke="#000" stroke-width="0.88" fill="none"/>
<text transform="translate(383.1,437.4) scale(1.0,1)" text-anchor="end" font-size="10">0</text>
<text transform="translate(383.1,414.36) scale(1.0,1)" text-anchor="end" font-size="10">200</text>
<text transform="translate(383.1,391.31) scale(1.0,1)" text-anchor="end" font-size="10">400</text>
<text transform="translate(383.1,368.27) scale(1.0,1)" text-anchor="end" font-size="10">600</text>
<text transform="translate(383.1,345.23) scale(1.0,1)" text-anchor="end" font-size="10">800</text>
<text transform="translate(383.1,322.19) scale(1.0,1)" text-anchor="end" font-size="10">1000</text>
<text transform="translate(383.1,299.14) scale(1.0,1)" text-anchor="end" font-size="10">1200</text>
<text transform="translate(383.1,276.1) scale(1.0,1)" text-anchor="end" font-size="10">1400</text>
<text transform="translate(390.8,458.9) scale(0.9,1)" text-anchor="middle" font-size="10.5">10<tspan font-size="7.77" dy="-6.3">1</tspan></text>
<text transform="translate(506.25,458.9) scale(0.9,1)" text-anchor="middle" font-size="10.5">10<tspan font-size="7.77" dy="-6.3">2</tspan></text>
<text transform="translate(621.7,458.9) scale(0.9,1)" text-anchor="middle" font-size="10.5">10<tspan font-size="7.77" dy="-6.3">3</tspan></text>
<polyline points="425.25,277.24 460.01,335.42 494.76,356.28 505.95,360.65 540.7,367.45 586.65,372.41" fill="none" stroke="#1f77b4" stroke-width="1.75" stroke-linecap="square" stroke-linejoin="round"/>
<circle cx="425.25" cy="277.24" r="3.3" fill="#1f77b4" stroke="#1f77b4" stroke-width="1.1"/>
<circle cx="460.01" cy="335.42" r="3.3" fill="#1f77b4" stroke="#1f77b4" stroke-width="1.1"/>
<circle cx="494.76" cy="356.28" r="3.3" fill="#1f77b4" stroke="#1f77b4" stroke-width="1.1"/>
<circle cx="505.95" cy="360.65" r="3.3" fill="#1f77b4" stroke="#1f77b4" stroke-width="1.1"/>
<circle cx="540.7" cy="367.45" r="3.3" fill="#1f77b4" stroke="#1f77b4" stroke-width="1.1"/>
<circle cx="586.65" cy="372.41" r="3.3" fill="#1f77b4" stroke="#1f77b4" stroke-width="1.1"/>
<polyline points="425.25,433.7 460.01,433.7 494.76,433.7 505.95,433.7 540.7,433.7 586.65,433.7" fill="none" stroke="#ff7f0e" stroke-width="1.75" stroke-dasharray="5.66,2.45" stroke-linecap="butt" stroke-linejoin="round"/>
<rect x="421.95" y="430.4" width="6.6" height="6.6" fill="#ff7f0e" stroke="#ff7f0e" stroke-width="1.1" stroke-linejoin="miter"/>
<rect x="456.71" y="430.4" width="6.6" height="6.6" fill="#ff7f0e" stroke="#ff7f0e" stroke-width="1.1" stroke-linejoin="miter"/>
<rect x="491.46" y="430.4" width="6.6" height="6.6" fill="#ff7f0e" stroke="#ff7f0e" stroke-width="1.1" stroke-linejoin="miter"/>
<rect x="502.65" y="430.4" width="6.6" height="6.6" fill="#ff7f0e" stroke="#ff7f0e" stroke-width="1.1" stroke-linejoin="miter"/>
<rect x="537.4" y="430.4" width="6.6" height="6.6" fill="#ff7f0e" stroke="#ff7f0e" stroke-width="1.1" stroke-linejoin="miter"/>
<rect x="583.35" y="430.4" width="6.6" height="6.6" fill="#ff7f0e" stroke="#ff7f0e" stroke-width="1.1" stroke-linejoin="miter"/>
<polyline points="425.25,351.78 460.01,363.19 494.76,370.45 505.95,372.98 540.7,378.17 586.65,381.85" fill="none" stroke="#2ca02c" stroke-width="1.75" stroke-dasharray="1.53,2.52" stroke-linecap="butt" stroke-linejoin="round"/>
<polygon points="425.25,348.48 421.95,355.08 428.55,355.08" fill="#2ca02c" stroke="#2ca02c" stroke-width="1.1" stroke-linejoin="miter"/>
<polygon points="460.01,359.89 456.71,366.49 463.31,366.49" fill="#2ca02c" stroke="#2ca02c" stroke-width="1.1" stroke-linejoin="miter"/>
<polygon points="494.76,367.15 491.46,373.75 498.06,373.75" fill="#2ca02c" stroke="#2ca02c" stroke-width="1.1" stroke-linejoin="miter"/>
<polygon points="505.95,369.68 502.65,376.28 509.25,376.28" fill="#2ca02c" stroke="#2ca02c" stroke-width="1.1" stroke-linejoin="miter"/>
<polygon points="540.7,374.87 537.4,381.47 544,381.47" fill="#2ca02c" stroke="#2ca02c" stroke-width="1.1" stroke-linejoin="miter"/>
<polygon points="586.65,378.55 583.35,385.15 589.95,385.15" fill="#2ca02c" stroke="#2ca02c" stroke-width="1.1" stroke-linejoin="miter"/>
<polyline points="425.25,398.21 460.01,406.74 494.76,412.96 505.95,415.5 540.7,419.76 586.65,422.06" fill="none" stroke="#d62728" stroke-width="1.75" stroke-dasharray="9.79,2.45,1.53,2.45" stroke-linecap="butt" stroke-linejoin="round"/>
<path d="M425.25,394.91L425.25,401.51" stroke="#d62728" stroke-width="1.32" fill="none" stroke-linecap="butt"/>
<path d="M460.01,403.44L460.01,410.04" stroke="#d62728" stroke-width="1.32" fill="none" stroke-linecap="butt"/>
<path d="M494.76,409.66L494.76,416.26" stroke="#d62728" stroke-width="1.32" fill="none" stroke-linecap="butt"/>
<path d="M505.95,412.2L505.95,418.8" stroke="#d62728" stroke-width="1.32" fill="none" stroke-linecap="butt"/>
<path d="M540.7,416.46L540.7,423.06" stroke="#d62728" stroke-width="1.32" fill="none" stroke-linecap="butt"/>
<path d="M586.65,418.76L586.65,425.36" stroke="#d62728" stroke-width="1.32" fill="none" stroke-linecap="butt"/>
<rect x="548.9" y="275.2" width="67.3" height="61.4" rx="2.5" fill="#fff" fill-opacity="0.8" stroke="#d6d6d6" stroke-width="1"/>
<path d="M552.3,282.6H574.3" stroke="#1f77b4" stroke-width="1.75" stroke-linecap="butt" fill="none"/>
<circle cx="563.3" cy="282.6" r="3.3" fill="#1f77b4" stroke="#1f77b4" stroke-width="1.1"/>
<text transform="translate(582.3,286.72) scale(0.95,1)" font-size="10.3">ED-OF</text>
<path d="M552.3,297.6H574.3" stroke="#ff7f0e" stroke-width="1.75" stroke-dasharray="5.66,2.45" stroke-linecap="butt" fill="none"/>
<rect x="560" y="294.3" width="6.6" height="6.6" fill="#ff7f0e" stroke="#ff7f0e" stroke-width="1.1" stroke-linejoin="miter"/>
<text transform="translate(582.3,301.72) scale(0.95,1)" font-size="10.3">FD-OF</text>
<path d="M552.3,312.4H574.3" stroke="#2ca02c" stroke-width="1.75" stroke-dasharray="1.53,2.52" stroke-linecap="butt" fill="none"/>
<polygon points="563.3,309.1 560,315.7 566.6,315.7" fill="#2ca02c" stroke="#2ca02c" stroke-width="1.1" stroke-linejoin="miter"/>
<text transform="translate(582.3,316.52) scale(0.95,1)" font-size="10.3">ED-FF</text>
<path d="M552.3,327.3H574.3" stroke="#d62728" stroke-width="1.75" stroke-dasharray="9.79,2.45,1.53,2.45" stroke-linecap="butt" fill="none"/>
<path d="M563.3,324L563.3,330.6" stroke="#d62728" stroke-width="1.32" fill="none" stroke-linecap="butt"/>
<text transform="translate(582.3,331.42) scale(0.95,1)" font-size="10.3">ED-NF</text>
<text x="506.9" y="478" text-anchor="middle" font-size="15"><tspan font-family='"Liberation Sans", sans-serif' font-style="italic" font-size="16.8" class="hv">λ</tspan><tspan font-family='"Liberation Sans", sans-serif' font-size="10.8" dx="0.8" dy="3">0</tspan><tspan dx="0.3" dy="-3"> (pax/h/km</tspan><tspan font-family='"Liberation Sans", sans-serif' font-size="10.5" dy="-6">2</tspan><tspan dy="6">)</tspan></text>
<text transform="translate(355,355.4) rotate(-90)" x="0" y="0" text-anchor="middle" font-size="14.7">Reduction in demand (pax/h)</text>
<text x="75.8" y="248.0" font-size="17.65" class="hv" xml:space="preserve">(a)  Generalized cost</text>
<text x="353.6" y="247.7" font-size="17.65" class="hv" xml:space="preserve">(b)  Fares for four types of passengers</text>
<text x="34.3" y="515.0" font-size="17.65" class="hv" xml:space="preserve">(c)  Proportion of Type II-IV</text>
<text x="395.8" y="515.3" font-size="17.65" class="hv" xml:space="preserve">(d) Reductions in demand</text>
</svg>
</body></html>
